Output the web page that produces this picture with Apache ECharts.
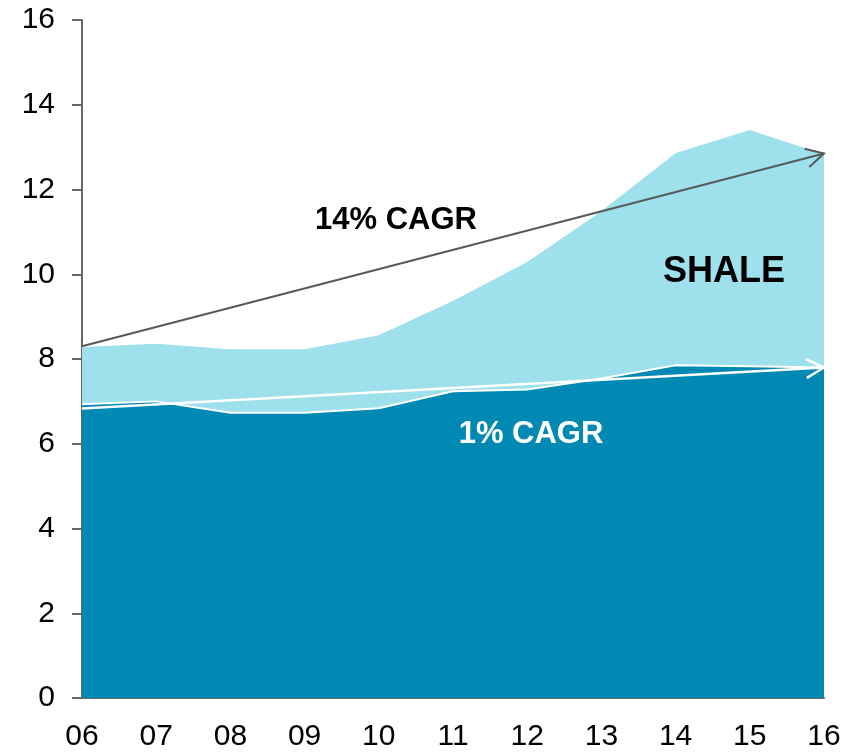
<!DOCTYPE html>
<html>
<head>
<meta charset="utf-8">
<script src="https://cdn.jsdelivr.net/npm/echarts@6/dist/echarts.min.js"></script>
<style>
  html, body { margin: 0; padding: 0; background: #ffffff; }
  #chart { width: 858px; height: 752px; }
</style>
</head>
<body>
<div id="chart"></div>
<script>
// Years on the x axis
const years = ['06', '07', '08', '09', '10', '11', '12', '13', '14', '15', '16'];
// Total supply (conventional + shale)
const totalSupply = [8.30, 8.38, 8.25, 8.25, 8.58, 9.39, 10.31, 11.51, 12.88, 13.42, 12.85];
// Conventional supply
const conventional = [6.93, 7.00, 6.73, 6.73, 6.84, 7.24, 7.28, 7.54, 7.85, 7.83, 7.80];
// Trend arrows: [start index, start value, end index, end value]
const trendTotal = [0, 8.30, 10, 12.85];
const trendConventional = [0, 6.83, 10, 7.80];

const FONT = '"Liberation Sans", Arial, Helvetica, sans-serif';
const AXIS_GREY = '#666666';

function arrowItem(color, width) {
  return function (params, api) {
    const a = api.coord([api.value(0), api.value(1)]);
    const b = api.coord([api.value(2), api.value(3)]);
    const ang = Math.atan2(a[1] - b[1], a[0] - b[0]);
    const len = 20, spread = 28 * Math.PI / 180;
    const p1 = [b[0] + len * Math.cos(ang + spread), b[1] + len * Math.sin(ang + spread)];
    const p2 = [b[0] + len * Math.cos(ang - spread), b[1] + len * Math.sin(ang - spread)];
    return {
      type: 'group',
      children: [
        { type: 'line', shape: { x1: a[0], y1: a[1], x2: b[0], y2: b[1] },
          style: { stroke: color, lineWidth: width } },
        { type: 'polyline', shape: { points: [p1, b, p2] },
          style: { stroke: color, lineWidth: width, fill: null } }
      ]
    };
  };
}

const chart = echarts.init(document.getElementById('chart'), null, { renderer: 'canvas' });
chart.setOption({
  animation: false,
  backgroundColor: '#ffffff',
  grid: { left: 82, right: 34, top: 20, bottom: 54, outerBoundsMode: 'none' },
  xAxis: {
    type: 'category',
    data: years,
    boundaryGap: false,
    axisLine: { show: true, lineStyle: { color: AXIS_GREY, width: 2 } },
    axisTick: { show: false },
    axisLabel: { color: '#000', fontSize: 30, fontFamily: FONT, margin: 24 },
    splitLine: { show: false }
  },
  yAxis: {
    type: 'value',
    min: 0, max: 16, interval: 2,
    axisLine: { show: true, lineStyle: { color: AXIS_GREY, width: 2 } },
    axisTick: { show: true, length: 10, lineStyle: { color: AXIS_GREY, width: 2 } },
    axisLabel: { color: '#000', fontSize: 30, fontFamily: FONT, margin: 27 },
    splitLine: { show: false }
  },
  series: [
    {
      name: 'Total',
      type: 'line',
      data: totalSupply,
      symbol: 'none',
      lineStyle: { color: '#ffffff', width: 1.5 },
      areaStyle: { color: '#9ee0ec', opacity: 1 },
      z: 1
    },
    {
      name: 'Conventional',
      type: 'line',
      data: conventional,
      symbol: 'none',
      lineStyle: { color: '#ffffff', width: 2 },
      areaStyle: { color: '#0089b3', opacity: 1 },
      z: 2
    },
    {
      name: '1% CAGR',
      type: 'custom',
      data: [trendConventional],
      encode: { x: [0, 2], y: [1, 3] },
      renderItem: arrowItem('#ffffff', 2.5),
      clip: false,
      z: 3
    },
    {
      name: '14% CAGR',
      type: 'custom',
      data: [trendTotal],
      encode: { x: [0, 2], y: [1, 3] },
      renderItem: arrowItem('#595959', 2),
      clip: false,
      z: 4
    }
  ],
  graphic: [
    { type: 'text', x: 396, y: 220, z: 10,
      style: { text: '14% CAGR', fill: '#000', font: 'bold 31px ' + FONT,
               align: 'center', verticalAlign: 'middle' } },
    { type: 'text', x: 531, y: 434, z: 10,
      style: { text: '1% CAGR', fill: '#fff', font: 'bold 31px ' + FONT,
               align: 'center', verticalAlign: 'middle' } },
    { type: 'text', x: 724, y: 272, z: 10,
      style: { text: 'SHALE', fill: '#000', font: 'bold 36px ' + FONT,
               align: 'center', verticalAlign: 'middle' } }
  ]
});
</script>
</body>
</html>
